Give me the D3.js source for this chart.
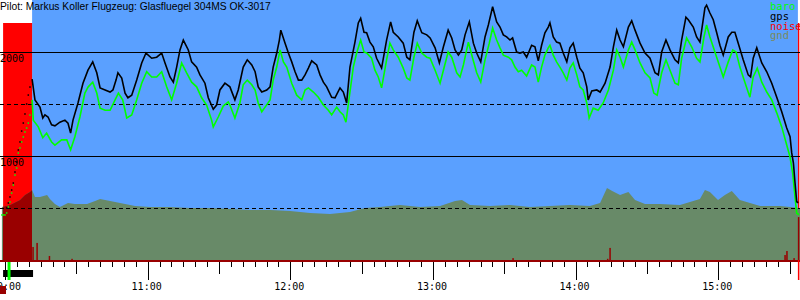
<!DOCTYPE html>
<html>
<head>
<meta charset="utf-8">
<script src="https://cdn.jsdelivr.net/npm/d3@7"></script>
<style>
  html, body { margin: 0; padding: 0; background: #fff; }
  svg { display: block; }
</style>
</head>
<body>
<div class="container"></div>
<script>
const WIDTH = 800;
const HEIGHT = 300;
const BASE_Y = 260;

const TITLE = 'Pilot: Markus Koller Flugzeug: Glasfluegel 304MS OK-3017';
const SERIES = ['baro', 'gps', 'noise', 'gnd'];
const SERIES_COLORS = ['#00ff00', '#000000', '#ff0000', '#7a8a5e'];
const ALT_SOLID = [1000, 2000];
const ALT_DASHED = [500, 1500];

// all times are minutes after 10:00
const launchMin = 11.4;
const landMin = 333.5;
const takeoffMin = 1.7;
const engineRuns = [[-0.8, 11.4], [333.5, 334.1]];

// tow / engine phase, drawn as single dots
const towGpsMin = [0.7, 1.4, 2.1, 2.8, 3.5, 4.2, 4.9, 5.6, 6.3, 7.0, 7.7, 8.4, 9.1, 9.8, 10.5];
const towGps = [500, 548, 606, 673, 740, 846, 942, 1058, 1135, 1240, 1317, 1404, 1500, 1586, 1663];
const towBaroMin = [-1.3, -0.6, 0.0, 0.7, 1.4, 2.1, 2.8, 3.5, 4.2, 4.9, 5.6, 6.3, 7.0, 7.7, 8.4, 9.1, 9.8, 10.5];
const towBaro = [433, 433, 433, 452, 510, 558, 644, 721, 817, 885, 1029, 1077, 1135, 1183, 1231, 1269, 1317, 1394];

const gpsMin = [11.4, 12.6, 14.7, 15.9, 16.8, 18.1, 19.6, 21.0, 23.1, 25.2, 26.5, 27.6, 28.6, 30.7, 32.8, 34.9, 36.9, 38.6, 40.0, 42.1,
  44.2, 45.4, 46.7, 47.5, 49.1, 50.5, 51.7, 53.3, 55.4, 57.5, 59.3, 61.7, 63.8, 65.9, 67.3, 69.4, 70.8, 72.2, 73.6, 75.0,
  77.1, 78.5, 80.6, 82.0, 84.1, 85.5, 87.6, 89.0, 90.4, 92.5, 94.6, 96.7, 98.1, 100.2, 101.9, 103.8, 105.2, 106.5, 108.0, 110.1,
  111.5, 112.8, 114.3, 115.4, 116.0, 117.8, 119.2, 120.6, 122.0, 123.4, 124.8, 126.2, 127.6, 129.0, 131.1, 132.5, 133.9, 135.3, 137.4, 138.8,
  140.9, 142.3, 143.7, 145.1, 147.2, 148.6, 149.6, 151.0, 152.1, 153.5, 154.9, 156.3, 158.4, 160.5, 162.2, 163.3, 165.4, 167.5, 169.0, 170.3,
  172.0, 173.4, 175.3, 177.4, 178.8, 180.9, 182.7, 184.4, 186.4, 187.9, 189.3, 190.7, 192.1, 193.5, 195.3, 197.0, 198.4, 200.1, 201.9, 203.3,
  205.1, 206.8, 208.2, 209.6, 211.0, 212.4, 213.5, 215.2, 216.6, 218.0, 219.4, 221.5, 222.9, 224.3, 225.7, 227.1, 228.5, 229.2, 230.6, 232.0,
  233.4, 234.8, 236.3, 237.6, 239.0, 240.5, 241.8, 243.2, 244.7, 245.3, 246.8, 248.9, 250.3, 252.4, 254.5, 255.9, 257.3, 258.7, 260.1, 262.2,
  263.6, 265.0, 267.1, 269.2, 271.3, 273.4, 274.8, 276.2, 278.0, 279.7, 281.8, 283.2, 284.6, 286.4, 287.4, 289.5, 290.9, 292.3, 294.4, 295.1,
  296.5, 297.9, 299.3, 300.7, 302.1, 304.2, 305.7, 307.0, 308.4, 310.5, 312.6, 313.6, 314.7, 316.2, 318.3, 320.4, 322.5, 324.6, 326.7, 328.8,
  330.2, 330.9, 331.6, 332.3, 333.0, 333.7];
const gpsAlt = [1740, 1540, 1470, 1365, 1395, 1375, 1300, 1290, 1325, 1345, 1315, 1220, 1345, 1510, 1700, 1825, 1905, 1800, 1655, 1635,
  1615, 1635, 1730, 1800, 1750, 1605, 1560, 1585, 1730, 1895, 1990, 1940, 1950, 1990, 1895, 1760, 1710, 1855, 2020, 2115,
  2020, 1905, 1855, 1780, 1700, 1560, 1450, 1490, 1635, 1700, 1665, 1540, 1635, 1855, 1925, 1875, 1810, 1665, 1615, 1635,
  1665, 1855, 1990, 2115, 2210, 2085, 1990, 1905, 1810, 1730, 1730, 1780, 1845, 1915, 1875, 1780, 1710, 1665, 1565, 1560,
  1655, 1615, 1510, 1855, 2095, 2280, 2325, 2190, 2185, 2095, 2050, 1940, 1845, 2115, 2290, 2190, 2145, 2085, 1950, 1925,
  2190, 2300, 2185, 2165, 2135, 2040, 1895, 2050, 2210, 2135, 2020, 1970, 2020, 2165, 2290, 2085, 1990, 1905, 2145, 2260,
  2435, 2290, 2240, 2165, 2145, 2115, 2135, 2000, 1990, 2000, 1950, 2065, 2050, 1915, 2065, 2185, 2240, 2280, 2145, 2095,
  2085, 1990, 1905, 2040, 2085, 1950, 1845, 1800, 1665, 1540, 1625, 1635, 1615, 1700, 1855, 2050, 2210, 2115, 2050, 2240,
  2300, 2210, 2085, 1990, 1940, 1800, 1780, 2000, 2115, 2020, 1925, 1895, 2115, 2335, 2310, 2240, 2145, 2095, 2425, 2450,
  2375, 2310, 2190, 2065, 1970, 2145, 2190, 2190, 2085, 1925, 1780, 1760, 1940, 2040, 1895, 1810, 1700, 1565, 1425, 1270,
  1185, 1030, 935, 740, 560, 550];

const baroMin = [11.4, 11.9, 14.0, 15.9, 17.5, 19.6, 21.0, 23.8, 26.0, 27.6, 29.4, 31.5, 33.6, 35.0, 36.9, 38.6, 40.0, 42.1, 44.2, 46.3,
  47.7, 49.5, 51.2, 53.3, 55.4, 57.5, 59.6, 61.7, 63.8, 65.9, 68.0, 70.1, 72.2, 74.3, 76.4, 78.5, 80.6, 82.7, 84.8, 86.9,
  87.6, 89.7, 91.8, 93.9, 94.6, 96.7, 98.8, 100.2, 101.9, 103.8, 105.2, 106.5, 108.0, 109.4, 111.5, 112.8, 114.3, 115.7, 117.1, 118.5,
  120.6, 122.7, 124.8, 126.2, 127.6, 129.7, 131.8, 133.9, 136.0, 137.4, 139.5, 140.9, 142.3, 143.4, 144.8, 146.5, 147.9, 149.6, 151.0, 152.1,
  154.2, 155.6, 157.0, 158.4, 160.5, 161.9, 163.3, 165.4, 167.5, 169.0, 170.3, 172.0, 173.4, 175.3, 177.4, 178.8, 180.9, 183.0, 184.4, 186.4,
  187.9, 190.0, 191.4, 192.8, 194.9, 196.7, 198.4, 200.1, 201.9, 203.7, 205.1, 206.8, 208.2, 209.6, 211.7, 213.1, 214.5, 215.9, 217.3, 219.4,
  221.5, 222.9, 224.3, 225.7, 227.1, 228.5, 229.2, 230.6, 232.0, 233.4, 234.8, 236.3, 237.6, 239.0, 240.5, 241.8, 243.2, 244.7, 245.7, 247.4,
  249.5, 251.6, 253.8, 255.9, 257.3, 258.7, 260.1, 262.2, 263.6, 265.0, 267.1, 269.2, 271.3, 272.9, 274.3, 276.2, 278.0, 279.7, 281.8, 283.2,
  284.6, 286.7, 288.8, 290.9, 292.3, 294.0, 295.1, 296.5, 298.6, 300.7, 302.1, 304.2, 306.1, 307.5, 309.1, 311.2, 313.3, 314.7, 316.4, 318.3,
  320.4, 322.5, 324.6, 326.7, 328.8, 330.2, 331.3, 332.3, 333.0, 334.0];
const baroAlt = [1540, 1345, 1280, 1175, 1220, 1135, 1105, 1155, 1155, 1060, 1185, 1375, 1605, 1665, 1710, 1605, 1460, 1440, 1440, 1540,
  1605, 1540, 1365, 1395, 1540, 1700, 1810, 1760, 1760, 1810, 1665, 1540, 1700, 1895, 1800, 1710, 1665, 1560, 1490, 1345,
  1280, 1375, 1480, 1520, 1490, 1365, 1510, 1685, 1730, 1685, 1635, 1510, 1425, 1470, 1540, 1730, 1855, 2020, 1905, 1855,
  1700, 1585, 1540, 1635, 1655, 1615, 1565, 1490, 1440, 1395, 1470, 1425, 1395, 1325, 1565, 1855, 1990, 2115, 2000, 1990,
  1940, 1825, 1760, 1655, 1925, 2085, 2020, 1950, 1845, 1750, 1730, 1950, 2085, 1990, 1950, 1940, 1825, 1700, 1825, 2000,
  1950, 1800, 1760, 1875, 2095, 1940, 1800, 1710, 1925, 2085, 2230, 2115, 2040, 1970, 1950, 1925, 1855, 1810, 1825, 1770,
  1875, 1855, 1710, 1855, 1970, 2040, 2065, 1970, 1905, 1855, 1800, 1730, 1845, 1895, 1780, 1665, 1635, 1510, 1365, 1460,
  1440, 1510, 1635, 1825, 2020, 1950, 1855, 2020, 2095, 2020, 1895, 1800, 1750, 1605, 1585, 1800, 1925, 1825, 1700, 1685,
  1940, 2135, 2050, 1940, 1905, 2145, 2260, 2145, 2000, 1855, 1760, 1905, 2020, 2000, 1855, 1710, 1565, 1760, 1845, 1710,
  1615, 1540, 1415, 1280, 1105, 990, 835, 605, 450, 435];

const gndMin = [-1.3, 2.1, 6.3, 8.4, 10.5, 11.4, 12.6, 14.7, 17.7, 18.9, 21.0, 23.1, 26.5, 29.4, 34.5, 37.9, 40.0, 42.1, 46.3, 50.5,
  54.7, 61.0, 69.4, 77.8, 86.2, 94.6, 103.0, 111.5, 119.9, 128.3, 136.7, 145.1, 151.4, 157.7, 166.1, 174.5, 183.0, 189.3, 192.2, 195.6,
  204.0, 212.4, 220.8, 229.2, 237.6, 246.0, 250.3, 253.2, 255.4, 258.7, 262.2, 265.0, 269.2, 275.5, 283.9, 292.3, 294.4, 296.5, 299.9, 302.8,
  305.7, 309.1, 317.6, 326.0, 334.4];
const gndAlt = [510, 529, 577, 625, 654, 673, 606, 606, 625, 587, 538, 510, 548, 538, 538, 567, 587, 577, 558, 538,
  519, 510, 510, 500, 500, 490, 481, 481, 471, 452, 442, 462, 500, 510, 529, 510, 519, 567, 577, 529,
  519, 529, 510, 519, 529, 519, 548, 692, 663, 625, 654, 577, 538, 538, 529, 587, 673, 654, 577, 625,
  663, 577, 519, 519, 500];

// engine noise level, 0..1000
const noiseMin = [11.8, 13.5, 18.7, 28.2, 213.7, 253.5, 254.5, 328.1, 328.9, 331.9, 333.8];
const noiseLevel = [55, 72, 17, 5, 8, 5, 51, 21, 38, 8, 181];

const T0 = new Date(2012, 5, 3, 10, 0, 0);
const at = m => new Date(T0.getTime() + m * 60000);

const svg = d3.select('.container').append('svg')
  .attr('width', WIDTH)
  .attr('height', HEIGHT)
  .style('font-family', 'DejaVu Sans Mono, monospace');

svg.append('rect').attr('width', WIDTH).attr('height', HEIGHT).attr('fill', '#fff');

const xScale = d3.scaleTime()
  .domain([at(0), at(300)])
  .range([5, 718.25]);

const yScale = d3.scaleLinear()
  .domain([0, 2500])
  .range([BASE_Y, 0]);

const noiseScale = d3.scaleLinear()
  .domain([0, 1000])
  .range([BASE_Y, 23]);

// sky during the flight
svg.append('rect')
  .attr('x', xScale(at(launchMin)))
  .attr('y', 0)
  .attr('width', xScale(at(landMin)) - xScale(at(launchMin)))
  .attr('height', yScale(0))
  .attr('fill', '#5aa0ff');

// engine running
svg.selectAll('.engine').data(engineRuns)
  .enter().append('rect')
  .attr('class', 'engine')
  .attr('x', d => xScale(at(d[0])))
  .attr('y', noiseScale(1000))
  .attr('width', d => xScale(at(d[1])) - xScale(at(d[0])))
  .attr('height', BASE_Y - noiseScale(1000))
  .attr('fill', '#ff0000');

const gnd = gndMin.map((m, i) => ({ t: at(m), v: gndAlt[i] }));
const gndArea = d3.area()
  .x(d => xScale(d.t))
  .y0(yScale(0))
  .y1(d => yScale(d.v));

svg.append('path').datum(gnd)
  .attr('d', gndArea)
  .attr('fill', '#688a68');

// ground under the engine phase
svg.append('clipPath').attr('id', 'engclip')
  .append('rect')
  .attr('x', xScale(at(engineRuns[0][0])))
  .attr('y', 0)
  .attr('width', xScale(at(engineRuns[0][1])) - xScale(at(engineRuns[0][0])))
  .attr('height', HEIGHT);

svg.append('path').datum(gnd)
  .attr('d', gndArea)
  .attr('clip-path', 'url(#engclip)')
  .attr('fill', '#990000');

svg.selectAll('.noise').data(noiseMin)
  .enter().append('rect')
  .attr('class', 'noise')
  .attr('x', m => xScale(at(m)) - 0.75)
  .attr('y', (m, i) => noiseScale(noiseLevel[i]))
  .attr('width', 1.5)
  .attr('height', (m, i) => BASE_Y - noiseScale(noiseLevel[i]))
  .attr('fill', '#990000');

// grid
svg.selectAll('.solid').data(ALT_SOLID)
  .enter().append('line')
  .attr('x1', 0).attr('x2', WIDTH)
  .attr('y1', d => Math.round(yScale(d)) + 0.5)
  .attr('y2', d => Math.round(yScale(d)) + 0.5)
  .attr('stroke', '#000');

svg.selectAll('.dashed').data(ALT_DASHED)
  .enter().append('line')
  .attr('x1', 0).attr('x2', WIDTH)
  .attr('y1', d => Math.round(yScale(d)) + 0.5)
  .attr('y2', d => Math.round(yScale(d)) + 0.5)
  .attr('stroke', '#000')
  .attr('stroke-dasharray', '4,3');

svg.selectAll('.altlabel').data(ALT_SOLID)
  .enter().append('text')
  .attr('x', 0)
  .attr('y', d => yScale(d) + 10)
  .attr('font-size', 10)
  .text(d => d);

const line = d3.line()
  .x(d => xScale(d.t))
  .y(d => yScale(d.v));

svg.append('path')
  .datum(baroMin.map((m, i) => ({ t: at(m), v: baroAlt[i] })))
  .attr('d', line)
  .attr('fill', 'none')
  .attr('stroke', '#00ff00')
  .attr('stroke-width', 1.6);

svg.append('path')
  .datum(gpsMin.map((m, i) => ({ t: at(m), v: gpsAlt[i] })))
  .attr('d', line)
  .attr('fill', 'none')
  .attr('stroke', '#000')
  .attr('stroke-width', 1.6);

svg.selectAll('.towbaro').data(towBaroMin)
  .enter().append('rect')
  .attr('x', m => xScale(at(m)) - 0.75)
  .attr('y', (m, i) => yScale(towBaro[i]) - 0.75)
  .attr('width', 1.5).attr('height', 1.5)
  .attr('fill', '#00ff00');

svg.selectAll('.towgps').data(towGpsMin)
  .enter().append('rect')
  .attr('x', m => xScale(at(m)) - 0.75)
  .attr('y', (m, i) => yScale(towGps[i]) - 0.75)
  .attr('width', 1.5).attr('height', 1.5)
  .attr('fill', '#000');

// time axis
svg.append('line')
  .attr('x1', 0).attr('x2', WIDTH)
  .attr('y1', BASE_Y + 1).attr('y2', BASE_Y + 1)
  .attr('stroke', '#990000')
  .attr('stroke-width', 2);

const ticks = d3.timeMinute.every(5).range(at(0), at(335));
svg.selectAll('.tick').data(ticks)
  .enter().append('line')
  .attr('x1', d => Math.round(xScale(d)) + 0.5)
  .attr('x2', d => Math.round(xScale(d)) + 0.5)
  .attr('y1', BASE_Y + 2)
  .attr('y2', d => BASE_Y + (d.getMinutes() === 0 ? 20 : d.getMinutes() === 30 ? 14 : 7))
  .attr('stroke', '#000');

const fmt = d3.timeFormat('%H:%M');
svg.selectAll('.tlabel').data(ticks.filter(d => d.getMinutes() === 0))
  .enter().append('text')
  .attr('x', d => Math.max(xScale(d) - 1, 6))
  .attr('y', 290)
  .attr('text-anchor', 'middle')
  .attr('font-size', 10)
  .text(d => fmt(d));

// engine timeline marks
svg.append('rect')
  .attr('x', xScale(at(engineRuns[0][0])))
  .attr('y', 270)
  .attr('width', xScale(at(noiseMin[0])) - xScale(at(engineRuns[0][0])))
  .attr('height', 7)
  .attr('fill', '#000');

svg.append('rect')
  .attr('x', xScale(at(takeoffMin)) - 1.5)
  .attr('y', BASE_Y + 2)
  .attr('width', 3)
  .attr('height', 18)
  .attr('fill', '#00ff00');

svg.append('rect')
  .attr('x', 0).attr('y', 286)
  .attr('width', 6).attr('height', 8)
  .attr('fill', '#990000');

svg.append('rect')
  .attr('x', xScale(at(engineRuns[1][0]))).attr('y', BASE_Y)
  .attr('width', 1.5).attr('height', 20)
  .attr('fill', '#ff0000');

// legend
svg.selectAll('.legend').data(SERIES)
  .enter().append('text')
  .attr('x', 770)
  .attr('y', (d, i) => 10 + i * 9.8)
  .attr('font-size', 10.5)
  .attr('fill', (d, i) => SERIES_COLORS[i])
  .text(d => d);

svg.append('text')
  .attr('x', 0)
  .attr('y', 10)
  .attr('font-family', 'Liberation Sans, Arial, sans-serif')
  .attr('font-size', 10.3)
  .text(TITLE);
</script>
</body>
</html>
